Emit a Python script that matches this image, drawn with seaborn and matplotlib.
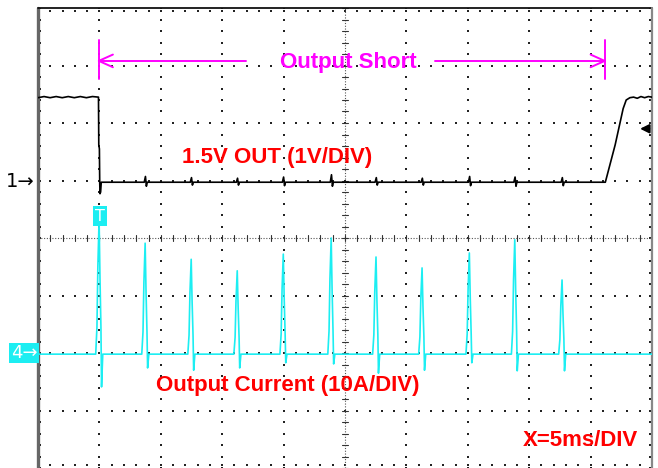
import numpy as np
import pandas as pd
import seaborn as sns
import matplotlib.pyplot as plt

# scope screen in divisions: x 0..10, y -4..4 (0 = centre line)
# channel 1 (1.5V out), ground marker at +1 div, 1 V/div
pre_y = [2.44, 2.46, 2.44, 2.46, 2.44, 2.46, 2.44, 2.46, 2.44, 2.46, 2.45]
v_gnd = 0.97
v_glitch_t = [1.76, 2.51, 3.26, 4.01, 4.79, 5.52, 6.27, 7.04, 7.78, 8.55]
v_glitch_up = [0.10, 0.08, 0.07, 0.09, 0.13, 0.08, 0.07, 0.10, 0.09, 0.08]
v_glitch_dn = [-0.07, -0.05, -0.05, -0.06, -0.07, -0.05, -0.05, -0.06, -0.07, -0.06]
ramp_t = [9.24, 9.40, 9.53, 9.58, 9.64]
ramp_y = [0.97, 1.62, 2.25, 2.40, 2.44]
post_t = [9.70, 9.76, 9.82, 9.88, 9.94, 10.0]
post_y = [2.45, 2.43, 2.46, 2.44, 2.46, 2.45]

# channel 4 (output current), baseline at -2 div, 10 A/div
i_base = -2.02
spike_t = [1.01, 1.76, 2.51, 3.26, 4.01, 4.79, 5.52, 6.27, 7.04, 7.78, 8.55]
spike_peak = [0.33, -0.09, -0.37, -0.57, -0.28, 0.0, -0.33, -0.52, -0.26, -0.03, -0.73]
spike_dip = [-2.59, -2.26, -2.30, -2.26, -2.17, -2.19, -2.35, -2.30, -2.17, -2.31, -2.31]

MAG = "#FF00FF"
CYAN = "#1CEEF2"
RED = "#FF0000"

# ---- build traces
vx = list(np.linspace(0, 0.985, len(pre_y)))
vy = list(pre_y)
vx += [0.99, 1.0, 1.005, 1.01, 1.02, 1.03]
vy += [1.62, 1.55, 0.98, 0.77, 0.80, v_gnd]
for t, up, dn in zip(v_glitch_t, v_glitch_up, v_glitch_dn):
    vx += [t - 0.03, t - 0.01, t + 0.005, t + 0.02]
    vy += [v_gnd, v_gnd + up, v_gnd + dn, v_gnd]
vx += ramp_t + post_t
vy += ramp_y + post_y
volt = pd.DataFrame({"t": vx, "v": vy})

ix, iy = [0.0], [i_base]
for t, p, d in zip(spike_t, spike_peak, spike_dip):
    h = p - i_base
    ix += [t - 0.07, t - 0.05, t - 0.035, t - 0.015, t, t + 0.015, t + 0.025, t + 0.045]
    iy += [i_base, i_base + 0.2 * h, i_base + 0.65 * h, p, i_base + 0.55 * h,
           i_base + 0.2 * h, d, i_base]
ix.append(10.0)
iy.append(i_base)
curr = pd.DataFrame({"t": ix, "i": iy})

# ---- figure
sns.set_style("white")
plt.rcParams["font.family"] = ["Liberation Sans", "DejaVu Sans"]
fig = plt.figure(figsize=(6.58, 4.68), dpi=100)
ax = fig.add_axes([38 / 658, 0, 614 / 658, 460 / 468])
ax.set_xlim(0, 10)
ax.set_ylim(-4, 4)
ax.set_xticks([])
ax.set_yticks([])
for s in ax.spines.values():
    s.set_visible(False)

# graticule dots
minor = np.round(np.arange(0, 10.01, 0.2), 2)
minor_y = np.round(np.arange(-4, 4.01, 0.2), 2)
gx, gy = [], []
for xv in [1, 2, 3, 4, 6, 7, 8, 9]:
    gx += [xv] * len(minor_y)
    gy += list(minor_y)
for yv in [-3, -2, -1, 1, 2, 3]:
    gx += list(minor)
    gy += [yv] * len(minor)
# border ticks
gx += [0.04] * len(minor_y) + [9.96] * len(minor_y) + list(minor) + list(minor)
gy += list(minor_y) + list(minor_y) + [3.95] * len(minor) + [-3.95] * len(minor)
sns.scatterplot(x=gx, y=gy, marker="s", s=2.2, color="#222222", linewidth=0, ax=ax)

# centre lines with ticks
ax.plot([5, 5], [-4, 4], color="#555555", lw=0.8, ls=(0, (1, 1.5)))
ax.plot([0, 10], [0, 0], color="#555555", lw=0.8, ls=(0, (1, 1.5)))
for yv in minor_y:
    ax.plot([4.95, 5.05], [yv, yv], color="#333333", lw=0.8)
for xv in minor:
    ax.plot([xv, xv], [-0.05, 0.05], color="#333333", lw=0.8)

# borders
ax.plot([0, 0], [-4, 4], color="#666666", lw=2.4, clip_on=False)
ax.plot([0, 10], [4, 4], color="#111111", lw=1.3, clip_on=False)
ax.plot([10, 10], [-4, 4], color="#888888", lw=1.6, clip_on=False)

# traces
sns.lineplot(data=curr, x="t", y="i", sort=False, estimator=None,
             color=CYAN, lw=1.2, ax=ax)
sns.lineplot(data=volt, x="t", y="v", sort=False, estimator=None,
             color="black", lw=1.2, ax=ax)

# output short marker
for xb in [0.99, 9.23]:
    ax.plot([xb, xb], [2.77, 3.44], color=MAG, lw=1.4)
ax.plot([0.99, 3.39], [3.08, 3.08], color=MAG, lw=1.4)
ax.plot([6.47, 9.23], [3.08, 3.08], color=MAG, lw=1.4)
ax.plot([1.22, 0.99, 1.22], [3.19, 3.08, 2.97], color=MAG, lw=1.4)
ax.plot([9.0, 9.23, 9.0], [3.19, 3.08, 2.97], color=MAG, lw=1.4)
ax.text(5.05, 3.06, "Output Short", color=MAG, fontsize=16, fontweight="bold",
        ha="center", va="center")

ax.text(3.89, 1.40, "1.5V OUT (1V/DIV)", color=RED, fontsize=16,
        fontweight="bold", ha="center", va="center")
ax.text(4.06, -2.57, "Output Current (10A/DIV)", color=RED, fontsize=16,
        fontweight="bold", ha="center", va="center")
ax.text(8.83, -3.52, "X=5ms/DIV", color=RED, fontsize=16,
        fontweight="bold", ha="center", va="center")

# channel / trigger markers
ax.text(-0.29, 0.99, "1\u2192", color="black", fontsize=14, ha="center",
        va="center", family="DejaVu Sans", clip_on=False)
ax.text(-0.23, -2.0, "4\u2192", color="white", fontsize=13, ha="center",
        va="center", family="DejaVu Sans", clip_on=False,
        bbox=dict(boxstyle="square,pad=0.08", fc=CYAN, ec="none"))
ax.text(1.01, 0.38, "T", color="white", fontsize=11.5, ha="center", va="center",
        family="DejaVu Sans",
        bbox=dict(boxstyle="square,pad=0.15", fc=CYAN, ec="none"))
ax.annotate("", xy=(9.76, 1.90), xytext=(10.0, 1.90),
            arrowprops=dict(arrowstyle="-|>", color="black", lw=1.5,
                            mutation_scale=13), annotation_clip=False)

ax.set_xlabel("")
ax.set_ylabel("")
fig.savefig("out.png", dpi=100)
